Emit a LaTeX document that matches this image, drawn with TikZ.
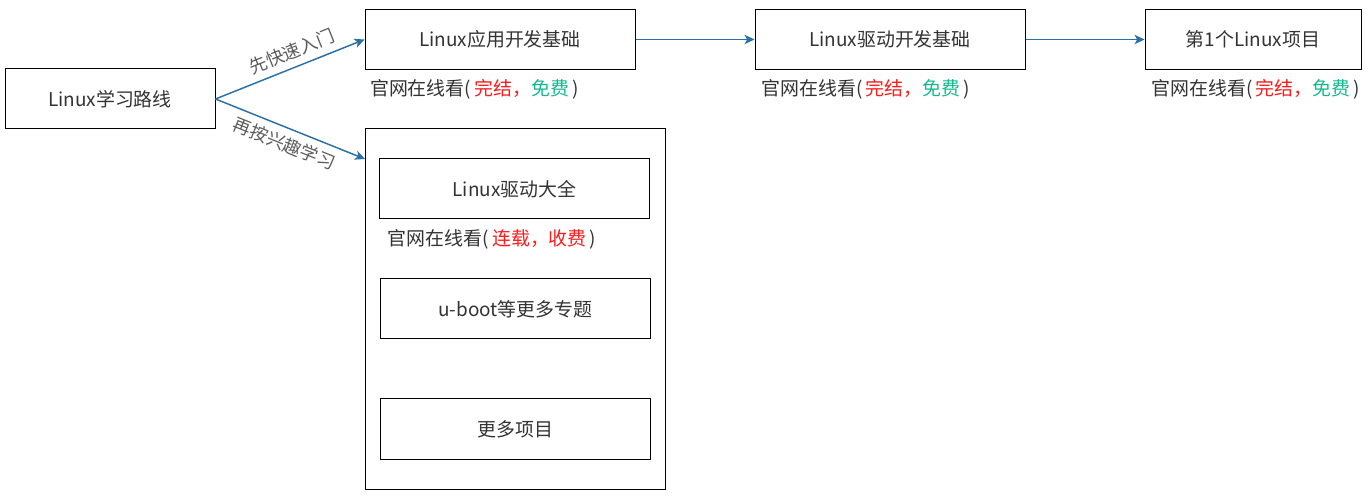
\documentclass[tikz,border=0pt]{standalone}
\usepackage{fontspec}
\setmainfont{Noto Sans CJK SC}
\usetikzlibrary{positioning,arrows.meta}
\definecolor{arrowblue}{HTML}{2A6FA6}
\definecolor{txtgray}{HTML}{333333}
\definecolor{freegreen}{HTML}{14B890}
\definecolor{endred}{HTML}{FF1A1A}

\begin{document}
\begin{tikzpicture}[x=0.75pt,y=-0.75pt,>={Stealth[length=7.5pt,width=7pt,inset=2pt]},
    box/.style={draw=black,line width=0.75pt,text=txtgray,minimum width=202.5pt,minimum height=45pt,inner sep=0pt,font=\fontsize{14.2}{16}\selectfont},
    note/.style={text=txtgray,inner sep=0pt,anchor=north west,font=\fontsize{14.2}{16}\selectfont},
    flow/.style={->,draw=arrowblue,line width=1.1pt},
    lbl/.style={text=txtgray!80,font=\fontsize{13.5}{15}\selectfont,inner sep=5pt}]
    \useasboundingbox (0,0) rectangle (1366,498);

    % main line
    \node[box,minimum width=157.5pt] (root) at (110,99) {Linux学习路线};
    \node[box] (appbase) at (500,39.5) {Linux应用开发基础};
    \node[box] (drvbase) at (890,39.5) {Linux驱动开发基础};
    \node[box,minimum width=162pt] (proj) at (1253,39.5) {第1个Linux项目};

    \node[note,below right=7pt and 4pt of appbase.south west] (appnote) {官网在线看(\,\textcolor{endred}{完结，}\textcolor{freegreen}{免费}\,)};
    \node[note,below right=7pt and 5pt of drvbase.south west] (drvnote) {官网在线看(\,\textcolor{endred}{完结，}\textcolor{freegreen}{免费}\,)};
    \node[note,below right=7pt and 5pt of proj.south west] (projnote) {官网在线看(\,\textcolor{endred}{完结，}\textcolor{freegreen}{免费}\,)};

    % topics by interest
    \node[box,minimum width=225pt,minimum height=270pt] (all) at (515,309) {};
    \node[box] (drvall) at (514.5,189) {Linux驱动大全};
    \node[box] (uboot) at (515.5,309) {u-boot等更多专题};
    \node[box] (more) at (515.5,429) {更多项目};
    \node[note,below right=7pt and 6.5pt of drvall.south west] (allnote) {官网在线看(\,\textcolor{endred}{连载，收费}\,)};

    % connectors
    \coordinate (allin) at (365,159);
    \draw[flow] (root.east) -- node[lbl,sloped,above,pos=0.55] {先快速入门} (appbase.west);
    \draw[flow] (root.east) -- node[lbl,sloped,below,pos=0.5] {再按兴趣学习} (allin);
    \draw[flow] (appbase) -- (drvbase);
    \draw[flow] (drvbase) -- (proj);
\end{tikzpicture}
\end{document}
